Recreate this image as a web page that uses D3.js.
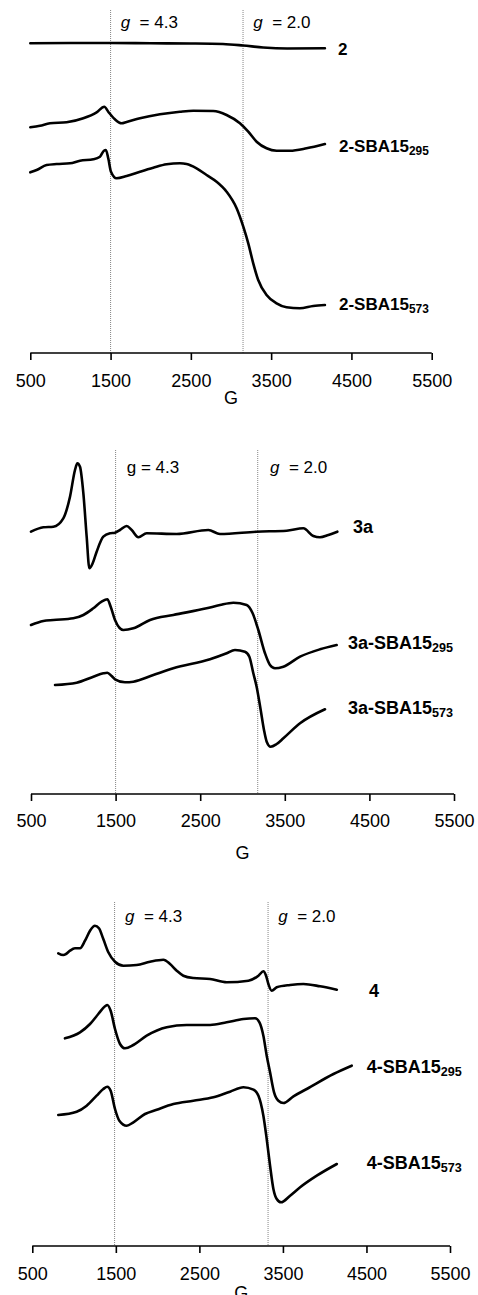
<!DOCTYPE html>
<html>
<head>
<meta charset="utf-8">
<script src="https://cdn.jsdelivr.net/npm/d3@7"></script>
<style>
  html, body { margin: 0; padding: 0; background: #fff; }
  svg { display: block; font-family: Arial, "Liberation Sans", sans-serif; }
</style>
</head>
<body>
<svg id="chart" width="478" height="1295"></svg>
<script>
// ---------- DATA ----------
const tickValues = [500, 1500, 2500, 3500, 4500, 5500];
const axisTitle = "G";

// Panel 1 : compound 2
const gLines1 = [1500, 3150];
const s2_G   = [500, 1000, 1500, 2000, 2500, 2900, 3150, 3400, 3700, 4170];
const s2_I   = [309.7, 310, 310, 309.7, 309.5, 309, 307.5, 305.5, 304.5, 304.7];
const s2a_G  = [500, 620, 745, 952, 1160, 1326, 1422, 1471, 1554, 1637, 1700, 1866, 2115, 2364, 2530, 2779, 2945, 3111, 3215, 3319, 3443, 3568, 3734, 3941, 4170];
const s2a_I  = [225.7, 227.3, 229.7, 230.7, 234.7, 240.7, 246.3, 241.3, 233.7, 229.7, 231, 234.7, 238.7, 241.3, 242.3, 242, 238, 229.7, 221.3, 211.3, 204.7, 202.3, 202.3, 204.7, 209];
const s2b_G  = [500, 579, 703, 828, 994, 1119, 1285, 1368, 1417, 1442, 1471, 1505, 1575, 1700, 1866, 2032, 2198, 2364, 2447, 2571, 2696, 2820, 2945, 3070, 3153, 3215, 3277, 3339, 3443, 3568, 3692, 3858, 4024, 4170];
const s2b_I  = [180.7, 183, 188, 189, 189.7, 192.3, 193.7, 196.3, 202.3, 203, 194.7, 181.3, 174.7, 177, 181.3, 185.3, 188.7, 189.7, 189, 184.7, 178, 171.3, 161.3, 144.7, 126.3, 109.7, 89.7, 73, 58, 49.7, 45.7, 44.7, 47, 48];

// Panel 2 : compound 3a
const gLines2 = [1500, 3180];
const s3_G   = [500, 646, 764, 882, 961, 1020, 1048, 1079, 1119, 1158, 1190, 1229, 1276, 1355, 1434, 1493, 1552, 1631, 1690, 1769, 1867, 2222, 2596, 2734, 3167, 3522, 3719, 3837, 3916, 4015, 4121];
const s3_I   = [262.3, 266.7, 267.3, 275.7, 297.3, 324, 330.7, 327.3, 300.7, 257.3, 225.7, 230.7, 242.3, 257.3, 260.7, 261.3, 264, 268, 264, 256.7, 260.7, 260, 264, 260, 262.3, 263.3, 265.7, 258, 256.7, 259, 262.3];
const s3a_G  = [500, 646, 764, 1000, 1119, 1237, 1335, 1402, 1442, 1493, 1591, 1710, 1907, 2182, 2576, 2734, 2892, 3049, 3120, 3187, 3266, 3325, 3384, 3483, 3680, 3916, 4113];
const s3a_I  = [169, 173, 174, 175.7, 179, 185.7, 192.3, 194.7, 187.3, 174, 164, 165.7, 174, 179, 185.7, 189, 191.3, 189, 180.7, 164, 140.7, 129, 125.7, 127.3, 137.3, 144.7, 149];
const s3b_G  = [784, 1040, 1237, 1355, 1402, 1453, 1493, 1611, 1710, 1946, 2182, 2616, 2813, 2911, 3029, 3081, 3128, 3167, 3215, 3254, 3286, 3333, 3404, 3483, 3680, 3975];
const s3b_I  = [109, 111.3, 117.3, 120.7, 121.3, 118, 114.7, 111.7, 112.3, 119, 125.7, 134.7, 140.7, 144, 142.3, 137.3, 120.7, 107.3, 84, 64, 52.3, 47.3, 50, 55.7, 70.7, 84.7];

// Panel 3 : compound 4
const gLines3 = [1485, 3322];
const s4_G   = [811, 871, 903, 951, 1011, 1071, 1131, 1191, 1250, 1298, 1350, 1410, 1490, 1590, 1749, 1909, 2069, 2149, 2229, 2308, 2428, 2628, 2827, 3087, 3207, 3266, 3298, 3326, 3366, 3426, 3586, 3745, 3945, 4145];
const s4_I   = [292.7, 291, 292, 295.3, 297.7, 297.7, 305.3, 315.3, 320.3, 317.7, 307, 293.7, 284.3, 280.3, 281, 284.3, 286.3, 282, 275.3, 270.3, 268, 267, 263.7, 265.3, 270.3, 274.7, 270.3, 262, 255.3, 258.7, 261, 262, 259.7, 256.3];
const s4a_G  = [891, 1071, 1191, 1290, 1370, 1398, 1438, 1490, 1550, 1610, 1710, 1869, 2109, 2348, 2628, 2827, 3027, 3167, 3219, 3266, 3306, 3346, 3394, 3446, 3506, 3626, 3785, 4105, 4324];
const s4a_I  = [207.7, 213.7, 222, 232, 239.7, 241, 235.3, 217, 202, 197.7, 201, 210.3, 218.7, 221, 221, 223.7, 227, 227.7, 223.7, 210.3, 190.3, 173.7, 153.7, 145.3, 143, 149.7, 157, 172, 180.3];
const s4b_G  = [811, 1031, 1151, 1270, 1350, 1398, 1438, 1490, 1542, 1630, 1710, 1849, 1989, 2189, 2428, 2668, 2867, 3027, 3147, 3207, 3266, 3306, 3346, 3386, 3426, 3478, 3586, 3706, 3905, 4145];
const s4b_I  = [131, 134.3, 140.3, 150.3, 157, 159.3, 155.3, 137, 125.3, 120.3, 123.7, 132, 136.3, 142, 145.3, 148.7, 154.3, 158.7, 156.3, 150.3, 130.3, 107, 80.3, 57, 47, 43.7, 50.3, 58.7, 70.3, 82];

// labels: [main, subscript]
const labels1 = [["2", ""], ["2-SBA15", "295"], ["2-SBA15", "573"]];
const labels2 = [["3a", ""], ["3a-SBA15", "295"], ["3a-SBA15", "573"]];
const labels3 = [["4", ""], ["4-SBA15", "295"], ["4-SBA15", "573"]];
const gLabels1 = [["g", "  = 4.3", true], ["g", "  = 2.0", true]];
const gLabels2 = [["g", " = 4.3", false], ["g", "  = 2.0", true]];
const gLabels3 = [["g", "  = 4.3", true], ["g", "  = 2.0", true]];

// ---------- LAYOUT ----------
const panels = [
  { x0: 30.3, x1: 431.7, axisY: 353, top: 10, yTop: 12, gLines: gLines1,
    series: [[s2_G, s2_I], [s2a_G, s2a_I], [s2b_G, s2b_I]],
    labels: labels1, labelPos: [[338, 55], [339, 152], [339, 310]], labelSize: 17,
    gLabels: gLabels1, gLabelPos: [[120.7, 28], [253.3, 28]],
    tickBase: 387, titleBase: 404 },
  { x0: 31, x1: 454, axisY: 794, top: 450, yTop: 450, gLines: gLines2,
    series: [[s3_G, s3_I], [s3a_G, s3a_I], [s3b_G, s3b_I]],
    labels: labels2, labelPos: [[353, 533], [348, 649], [348, 714]], labelSize: 18,
    gLabels: gLabels2, gLabelPos: [[126.7, 473], [270, 473]],
    tickBase: 827, titleBase: 859 },
  { x0: 32.3, x1: 450, axisY: 1246, top: 902, yTop: 901, gLines: gLines3,
    series: [[s4_G, s4_I], [s4a_G, s4a_I], [s4b_G, s4b_I]],
    labels: labels3, labelPos: [[369, 997], [366.7, 1073], [366.7, 1169]], labelSize: 18,
    gLabels: gLabels3, gLabelPos: [[125, 921.5], [278.3, 921.5]],
    tickBase: 1280, titleBase: 1299 }
];

const svg = d3.select("#chart");

panels.forEach(p => {
  const x = d3.scaleLinear().domain([500, 5500]).range([p.x0, p.x1]);
  const y = d3.scaleLinear().domain([0, p.axisY - p.yTop]).range([p.axisY, p.yTop]);
  const g = svg.append("g");

  // dotted g-value lines
  g.selectAll("line.gline").data(p.gLines).join("line")
    .attr("class", "gline")
    .attr("x1", d => x(d)).attr("x2", d => x(d))
    .attr("y1", p.top).attr("y2", p.axisY)
    .attr("stroke", "#777").attr("stroke-width", 0.9)
    .attr("stroke-dasharray", "1,1");

  // g labels
  p.gLabels.forEach((lab, i) => {
    const t = g.append("text")
      .attr("x", p.gLabelPos[i][0]).attr("y", p.gLabelPos[i][1])
      .attr("font-size", 17).attr("fill", "#000")
      .style("white-space", "pre");
    t.append("tspan").attr("font-style", lab[2] ? "italic" : "normal").text(lab[0]);
    t.append("tspan").text(lab[1]);
  });

  // axis
  const axis = d3.axisBottom(x).tickValues(tickValues).tickSize(7).tickPadding(0)
    .tickFormat(d3.format("d"));
  const ag = g.append("g").attr("transform", `translate(0,${p.axisY})`).call(axis);
  ag.select(".domain").attr("stroke", "#000").attr("stroke-width", 1.6)
    .attr("d", `M${p.x0},0H${p.x1}`);
  ag.selectAll(".tick line").attr("stroke", "#000").attr("stroke-width", 1.6);
  ag.selectAll(".tick text")
    .attr("y", p.tickBase - p.axisY).attr("dy", 0)
    .attr("font-size", 18).attr("font-family", "Arial, 'Liberation Sans', sans-serif")
    .attr("fill", "#000");

  g.append("text")
    .attr("x", (p.x0 + p.x1) / 2).attr("y", p.titleBase)
    .attr("text-anchor", "middle").attr("font-size", 18).attr("fill", "#000")
    .text(axisTitle);

  // spectra
  const line = d3.line().x(d => x(d[0])).y(d => y(d[1])).curve(d3.curveMonotoneX);
  p.series.forEach(s => {
    const pts = s[0].map((gv, i) => [gv, s[1][i]]);
    g.append("path").datum(pts)
      .attr("d", line)
      .attr("fill", "none").attr("stroke", "#000")
      .attr("stroke-width", 2.6).attr("stroke-linejoin", "round").attr("stroke-linecap", "round");
  });

  // series labels
  p.labels.forEach((lab, i) => {
    const t = g.append("text")
      .attr("x", p.labelPos[i][0]).attr("y", p.labelPos[i][1])
      .attr("font-size", p.labelSize).attr("font-weight", "bold").attr("fill", "#000");
    t.append("tspan").text(lab[0]);
    if (lab[1]) {
      t.append("tspan").attr("font-size", p.labelSize * 0.7).attr("dy", 3).text(lab[1]);
    }
  });
});
</script>
</body>
</html>
